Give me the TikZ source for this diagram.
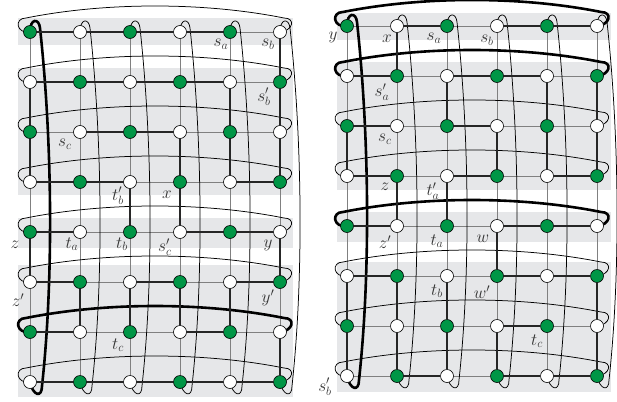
\documentclass[tikz,border=0pt]{standalone}
\usepackage{amsmath}
\usetikzlibrary{calc,backgrounds}
\definecolor{nodegreen}{RGB}{0,150,70}
\definecolor{bandgray}{RGB}{230,231,233}
\tikzset{
  gnode/.style={circle,draw=black,line width=0.6pt,fill=nodegreen,minimum size=13pt,inner sep=0pt},
  wnode/.style={gnode,fill=white},
  gridline/.style={draw=black!50,line width=0.9pt},
  pathline/.style={draw=black!85,line width=2.6pt},
  wrapline/.style={draw=black,line width=0.75pt},
  thickwrap/.style={draw=black,line width=2.6pt},
  lbl/.style={font=\fontsize{18}{20}\selectfont,text=black!80,inner sep=0pt}
}
% wrap round a column: style, top node, bottom node
\newcommand{\colwrap}[3]{%
  \draw[#1] (#2.center) .. controls +(0,-14) and +(-1,-10) .. ($(#2)+(10,-4)$)
    .. controls +(12,110) and +(12,-110) .. ($(#3)+(12,4)$)
    .. controls +(0,12) and +(3,14) .. (#3.center);}
% wrap round a row: style, left node, right node
\newcommand{\rowwrap}[3]{%
  \draw[#1] (#2.center) .. controls +(-14,2) and +(-12,0) .. ($(#2)+(-4,-14)$)
    .. controls +(80,-16) and +(-80,-16) .. ($(#3)+(4,-14)$)
    .. controls +(12,0) and +(13,-1) .. (#3.center);}
\begin{document}
\begin{tikzpicture}[x=1pt,y=-1pt]
\useasboundingbox (0,0) rectangle (617,401);
% grid nodes
\foreach \i in {1,...,6}
  \foreach \j in {1,...,8} {
    \pgfmathtruncatemacro\parity{mod(\i+\j,2)}
    \ifnum\parity=0 \def\st{gnode}\else\def\st{wnode}\fi
    \node[\st] (L-\i-\j) at ({30+50*(\i-1)},{32+50*(\j-1)}) {};
    \node[\st] (R-\i-\j) at ({347+50*(\i-1)},{26+50*(\j-1)}) {};
  }
\begin{scope}[on background layer]
  % bands
  \foreach \ya/\yb in {18/45,68/195,218/248,265/397}
    \fill[bandgray] (18,\ya) rectangle (293,\yb);
  \foreach \ya/\yb in {13/40,62/190,212/242,262/392}
    \fill[bandgray] (337,\ya) rectangle (611,\yb);
  % thin grid
  \foreach \p in {L,R} {
    \foreach \i in {1,...,5}
      \foreach \j in {1,...,8} {
        \pgfmathtruncatemacro\k{\i+1}
        \draw[gridline] (\p-\i-\j) -- (\p-\k-\j);
      }
    \foreach \i in {1,...,6}
      \foreach \j in {1,...,7} {
        \pgfmathtruncatemacro\k{\j+1}
        \draw[gridline] (\p-\i-\j) -- (\p-\i-\k);
      }
  }
  % wraps
  \foreach \i in {2,...,6} {\colwrap{wrapline}{L-\i-1}{L-\i-8}}
  \foreach \j in {1,2,3,4,5,6,8} {\rowwrap{wrapline}{L-1-\j}{L-6-\j}}
  \colwrap{thickwrap}{L-1-1}{L-1-8}
  \rowwrap{thickwrap}{L-1-7}{L-6-7}
  \foreach \i in {2,...,6} {\colwrap{wrapline}{R-\i-1}{R-\i-8}}
  \foreach \j in {3,4,6,7,8} {\rowwrap{wrapline}{R-1-\j}{R-6-\j}}
  \colwrap{thickwrap}{R-1-1}{R-1-8}
  \foreach \j in {1,2,5} {\rowwrap{thickwrap}{R-1-\j}{R-6-\j}}
  % paths
  \foreach \i/\j in {1/1,2/1,3/1,4/1,1/2,2/2,3/2,4/2,2/3,3/3,1/4,2/4,5/4,
      1/5,4/5,5/5,1/6,3/6,5/6,1/7,4/7,1/8,2/8,3/8,4/8,5/8} {
    \pgfmathtruncatemacro\k{\i+1}
    \draw[pathline] (L-\i-\j) -- (L-\k-\j);
  }
  \foreach \i/\j in {6/1,1/2,5/2,6/2,1/3,4/3,5/3,6/3,3/4,4/4,1/5,6/5,
      2/6,3/6,4/6,5/6,6/7} {
    \pgfmathtruncatemacro\k{\j+1}
    \draw[pathline] (L-\i-\j) -- (L-\i-\k);
  }
  \foreach \i/\j in {2/1,4/1,5/1,1/2,3/2,4/2,1/3,3/3,1/4,3/4,5/4,1/5,4/5,5/5,
      1/6,4/6,5/6,4/7,2/8,4/8,5/8} {
    \pgfmathtruncatemacro\k{\i+1}
    \draw[pathline] (R-\i-\j) -- (R-\k-\j);
  }
  \foreach \i/\j in {2/1,3/2,5/2,6/2,1/3,4/3,5/3,6/3,2/4,3/4,4/5,
      1/6,2/6,3/6,6/6,1/7,2/7,3/7,4/7,6/7} {
    \pgfmathtruncatemacro\k{\j+1}
    \draw[pathline] (R-\i-\j) -- (R-\i-\k);
  }
\end{scope}
% labels, left
\node[lbl] (lsa) at ($(L-5-1)+(-9,12)$) {$s_a$};
\node[lbl] (lsb) at ($(L-6-1)+(-12,12)$) {$s_b$};
\node[lbl] (lsb2) at ($(L-6-2)+(-16,15)$) {$s_b'$};
\node[lbl] (lsc) at ($(L-2-3)+(-15,12)$) {$s_c$};
\node[lbl] (ltb2) at ($(L-3-4)+(-12,14)$) {$t_b'$};
\node[lbl] (lx) at ($(L-4-4)+(-13,13)$) {$x$};
\node[lbl] (lz) at ($(L-1-5)+(-15,13)$) {$z$};
\node[lbl] (lta) at ($(L-2-5)+(-8,12)$) {$t_a$};
\node[lbl] (ltb) at ($(L-3-5)+(-8,12)$) {$t_b$};
\node[lbl] (lsc2) at ($(L-4-5)+(-15,15)$) {$s_c'$};
\node[lbl] (ly) at ($(L-6-5)+(-12,13)$) {$y$};
\node[lbl] (lz2) at ($(L-1-6)+(-12,18)$) {$z'$};
\node[lbl] (ly2) at ($(L-6-6)+(-12,16)$) {$y'$};
\node[lbl] (ltc) at ($(L-3-7)+(-12,13)$) {$t_c$};
% labels, right
\node[lbl] (ry) at ($(R-1-1)+(-14,11)$) {$y$};
\node[lbl] (rx) at ($(R-2-1)+(-10,13)$) {$x$};
\node[lbl] (rsa) at ($(R-3-1)+(-13,12)$) {$s_a$};
\node[lbl] (rsb) at ($(R-4-1)+(-10,14)$) {$s_b$};
\node[lbl] (rsa2) at ($(R-2-2)+(-15,16)$) {$s_a'$};
\node[lbl] (rsc) at ($(R-2-3)+(-12,13)$) {$s_c$};
\node[lbl] (rz) at ($(R-2-4)+(-12,11)$) {$z$};
\node[lbl] (rta2) at ($(R-3-4)+(-14,15)$) {$t_a'$};
\node[lbl] (rz2) at ($(R-2-5)+(-12,16)$) {$z'$};
\node[lbl] (rta) at ($(R-3-5)+(-10,15)$) {$t_a$};
\node[lbl] (rw) at ($(R-4-5)+(-14,13)$) {$w$};
\node[lbl] (rtb) at ($(R-3-6)+(-10,15)$) {$t_b$};
\node[lbl] (rw2) at ($(R-4-6)+(-15,16)$) {$w'$};
\node[lbl] (rtc) at ($(R-5-7)+(-10,15)$) {$t_c$};
\node[lbl] (rsb2) at ($(R-1-8)+(-22,11)$) {$s_b'$};
\end{tikzpicture}
\end{document}
